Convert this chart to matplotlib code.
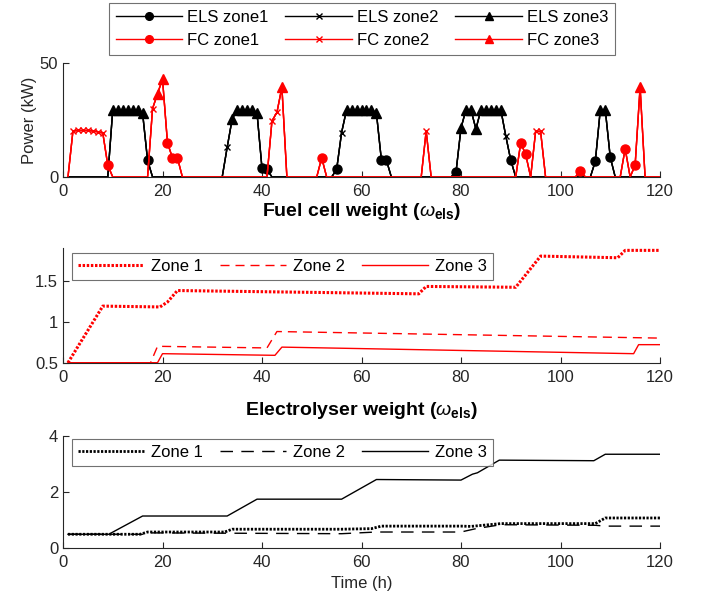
import numpy as np
import matplotlib
matplotlib.use("Agg")
import matplotlib.pyplot as plt

plt.rcParams['font.family'] = ['Liberation Sans', 'DejaVu Sans']
plt.rcParams['mathtext.fontset'] = 'custom'
plt.rcParams['mathtext.rm'] = 'Liberation Sans'
plt.rcParams['mathtext.it'] = 'Liberation Sans:italic'
plt.rcParams['mathtext.bf'] = 'Liberation Sans:bold'

# ---- top panel: hourly power, markers show which zone is served ----
hours = np.arange(1, 121)

els_z1_h = [17, 40, 41, 55, 64, 65, 79, 90, 107, 110]
els_z1_v = [7.3, 3.8, 3.3, 3.3, 7.4, 7.4, 2.2, 7.4, 6.9, 8.7]
els_z2_h = [33, 56, 89]
els_z2_v = [13, 19.5, 18]
els_z3_h = [10, 11, 12, 13, 14, 15, 16, 34, 35, 36, 37, 38, 39,
            57, 58, 59, 60, 61, 62, 63, 80, 81, 82, 83, 84, 85, 86, 87, 88, 108, 109]
els_z3_v = [29.5, 29.5, 29.5, 29.5, 29.5, 29.5, 28, 25.4, 29.5, 29.5, 29.5, 29.5, 28,
            29.5, 29.5, 29.5, 29.5, 29.5, 29.5, 28, 21.5, 29.5, 29.5, 21, 29.5, 29.5, 29.5, 29.5, 29.5, 29.5, 29.5]

fc_z1_h = [9, 21, 22, 23, 52, 92, 93, 104, 113, 115]
fc_z1_v = [5.2, 15, 8.4, 8.4, 8.4, 15, 9.9, 2.8, 12.4, 5.2]
fc_z2_h = [2, 3, 4, 5, 6, 7, 8, 18, 42, 43, 73, 95, 96]
fc_z2_v = [20.2, 20.4, 20.4, 20.4, 20.2, 19.8, 19.3, 30, 24.6, 28.3, 20.2, 20, 20]
fc_z3_h = [19, 20, 44, 116]
fc_z3_v = [36.5, 43, 39.4, 39.4]

# ---- middle panel: fuel cell weights ----
fcw_z1_t = [1, 8, 19.5, 21, 23, 71.5, 73, 91, 96, 111.5, 113, 120]
fcw_z1_v = [0.5, 1.19, 1.18, 1.24, 1.38, 1.34, 1.43, 1.42, 1.80, 1.78, 1.87, 1.87]
fcw_z2_t = [1, 17.6, 19, 41, 43, 120]
fcw_z2_v = [0.5, 0.5, 0.70, 0.68, 0.88, 0.80]
fcw_z3_t = [1, 19, 20, 42.6, 44, 114.7, 115.7, 120]
fcw_z3_v = [0.5, 0.5, 0.61, 0.59, 0.69, 0.61, 0.72, 0.72]

# ---- bottom panel: electrolyser weights ----
elw_z1_t = [1, 15.5, 17, 32.5, 34, 56, 62, 64, 80, 82, 88, 107, 109, 120]
elw_z1_v = [0.5, 0.5, 0.58, 0.58, 0.68, 0.68, 0.70, 0.79, 0.79, 0.78, 0.88, 0.88, 1.08, 1.08]
elw_z2_t = [1, 16, 17, 56, 63, 80, 83, 88, 107, 109, 120]
elw_z2_v = [0.5, 0.5, 0.55, 0.52, 0.58, 0.58, 0.70, 0.84, 0.82, 0.79, 0.79]
elw_z3_t = [1, 9.2, 16, 33, 39, 56, 63, 80, 82.3, 83.3, 87.7, 106.7, 109, 120]
elw_z3_v = [0.5, 0.5, 1.15, 1.15, 1.75, 1.75, 2.45, 2.43, 2.64, 2.69, 3.14, 3.12, 3.35, 3.35]

RED = '#ff0000'


def hourly_total(*zones):
    total = np.zeros(len(hours))
    for hrs, vals in zones:
        for h, v in zip(hrs, vals):
            total[h - 1] = v
    return total


def style_axis(ax, yticks, ylim):
    ax.set_xlim(0, 120)
    ax.set_ylim(*ylim)
    ax.set_xticks([0, 20, 40, 60, 80, 100, 120])
    ax.set_yticks(yticks)
    ax.tick_params(direction='in', length=4, width=0.8, labelsize=12, colors='0.15')
    ax.tick_params(axis='x', pad=5)
    for side in ['top', 'right']:
        ax.spines[side].set_visible(False)
    for side in ['left', 'bottom']:
        ax.spines[side].set_color('0.15')
        ax.spines[side].set_linewidth(0.8)


fig = plt.figure(figsize=(7.02, 6.04), dpi=100)
ax1 = fig.add_axes([63 / 702, 1 - 177 / 604, 597 / 702, 114 / 604])
ax2 = fig.add_axes([63 / 702, 1 - 362.7 / 604, 597 / 702, 114.8 / 604])
ax3 = fig.add_axes([63 / 702, 1 - 548.3 / 604, 597 / 702, 112.3 / 604])

# top panel
els_total = hourly_total((els_z1_h, els_z1_v), (els_z2_h, els_z2_v), (els_z3_h, els_z3_v))
fc_total = hourly_total((fc_z1_h, fc_z1_v), (fc_z2_h, fc_z2_v), (fc_z3_h, fc_z3_v))

handles = []
for hrs, mk, ms, lab in [(els_z1_h, 'o', 6.5, 'ELS zone1'),
                         (els_z2_h, 'x', 5, 'ELS zone2'),
                         (els_z3_h, '^', 6.5, 'ELS zone3')]:
    idx = [h - 1 for h in hrs]
    h, = ax1.plot(hours, els_total, color='k', lw=1, marker=mk, ms=ms,
                  markevery=idx, label=lab)
    handles.append(h)
for hrs, mk, ms, lab in [(fc_z1_h, 'o', 6.5, 'FC zone1'),
                         (fc_z2_h, 'x', 5, 'FC zone2'),
                         (fc_z3_h, '^', 6.5, 'FC zone3')]:
    idx = [h - 1 for h in hrs]
    h, = ax1.plot(hours, fc_total, color=RED, lw=1, marker=mk, ms=ms,
                  markevery=idx, label=lab)
    handles.append(h)

style_axis(ax1, [0, 50], (0, 50))
ax1.set_ylabel('Power (kW)', fontsize=12, color='0.15', labelpad=2)

order = [0, 3, 1, 4, 2, 5]
leg = fig.legend([handles[i] for i in order], [handles[i].get_label() for i in order],
                 ncol=3, loc='center', bbox_to_anchor=(362 / 702, 1 - 29 / 604),
                 fontsize=12, handlelength=4, handletextpad=0.3, columnspacing=1.0,
                 labelspacing=0.5, frameon=True, fancybox=False, edgecolor='0.3',
                 borderpad=0.4, markerscale=0.85)
leg.get_frame().set_linewidth(0.8)

# middle panel
ax2.plot(fcw_z1_t, fcw_z1_v, color=RED, lw=2.2, dashes=(0.8, 0.55), label='Zone 1')
ax2.plot(fcw_z2_t, fcw_z2_v, color=RED, lw=1, dashes=(6.5, 4.3), label='Zone 2')
ax2.plot(fcw_z3_t, fcw_z3_v, color=RED, lw=1, label='Zone 3')
style_axis(ax2, [0.5, 1, 1.5], (0.5, 1.9))
ax2.set_yticklabels(['0.5', '1', '1.5'])
leg2 = ax2.legend(ncol=3, loc='upper left', bbox_to_anchor=(0.015, 0.955), borderaxespad=0,
                  fontsize=12, handlelength=4, handletextpad=0.4, columnspacing=1.0,
                  frameon=True, fancybox=False, edgecolor='0.3', borderpad=0.35)
leg2.get_frame().set_linewidth(0.8)
ax2.text(0.5, 1.313, r'Fuel cell weight ($\omega_{\mathbf{els}}$)', transform=ax2.transAxes,
         ha='center', va='center', fontsize=14, fontweight='bold')

# bottom panel
ax3.plot(elw_z1_t, elw_z1_v, color='k', lw=2.0, dashes=(0.8, 0.55), label='Zone 1')
ax3.plot(elw_z2_t, elw_z2_v, color='k', lw=1, dashes=(9, 6), label='Zone 2')
ax3.plot(elw_z3_t, elw_z3_v, color='k', lw=1, label='Zone 3')
style_axis(ax3, [0, 2, 4], (0, 4))
leg3 = ax3.legend(ncol=3, loc='upper left', bbox_to_anchor=(0.015, 0.971), borderaxespad=0,
                  fontsize=12, handlelength=4, handletextpad=0.4, columnspacing=1.0,
                  frameon=True, fancybox=False, edgecolor='0.3', borderpad=0.35)
leg3.get_frame().set_linewidth(0.8)
ax3.text(0.5, 1.231, r'Electrolyser weight ($\omega_{\mathbf{els}}$)', transform=ax3.transAxes,
         ha='center', va='center', fontsize=14, fontweight='bold')
ax3.set_xlabel('Time (h)', fontsize=12, color='0.15', labelpad=4)

fig.savefig('out.png', dpi=100)
